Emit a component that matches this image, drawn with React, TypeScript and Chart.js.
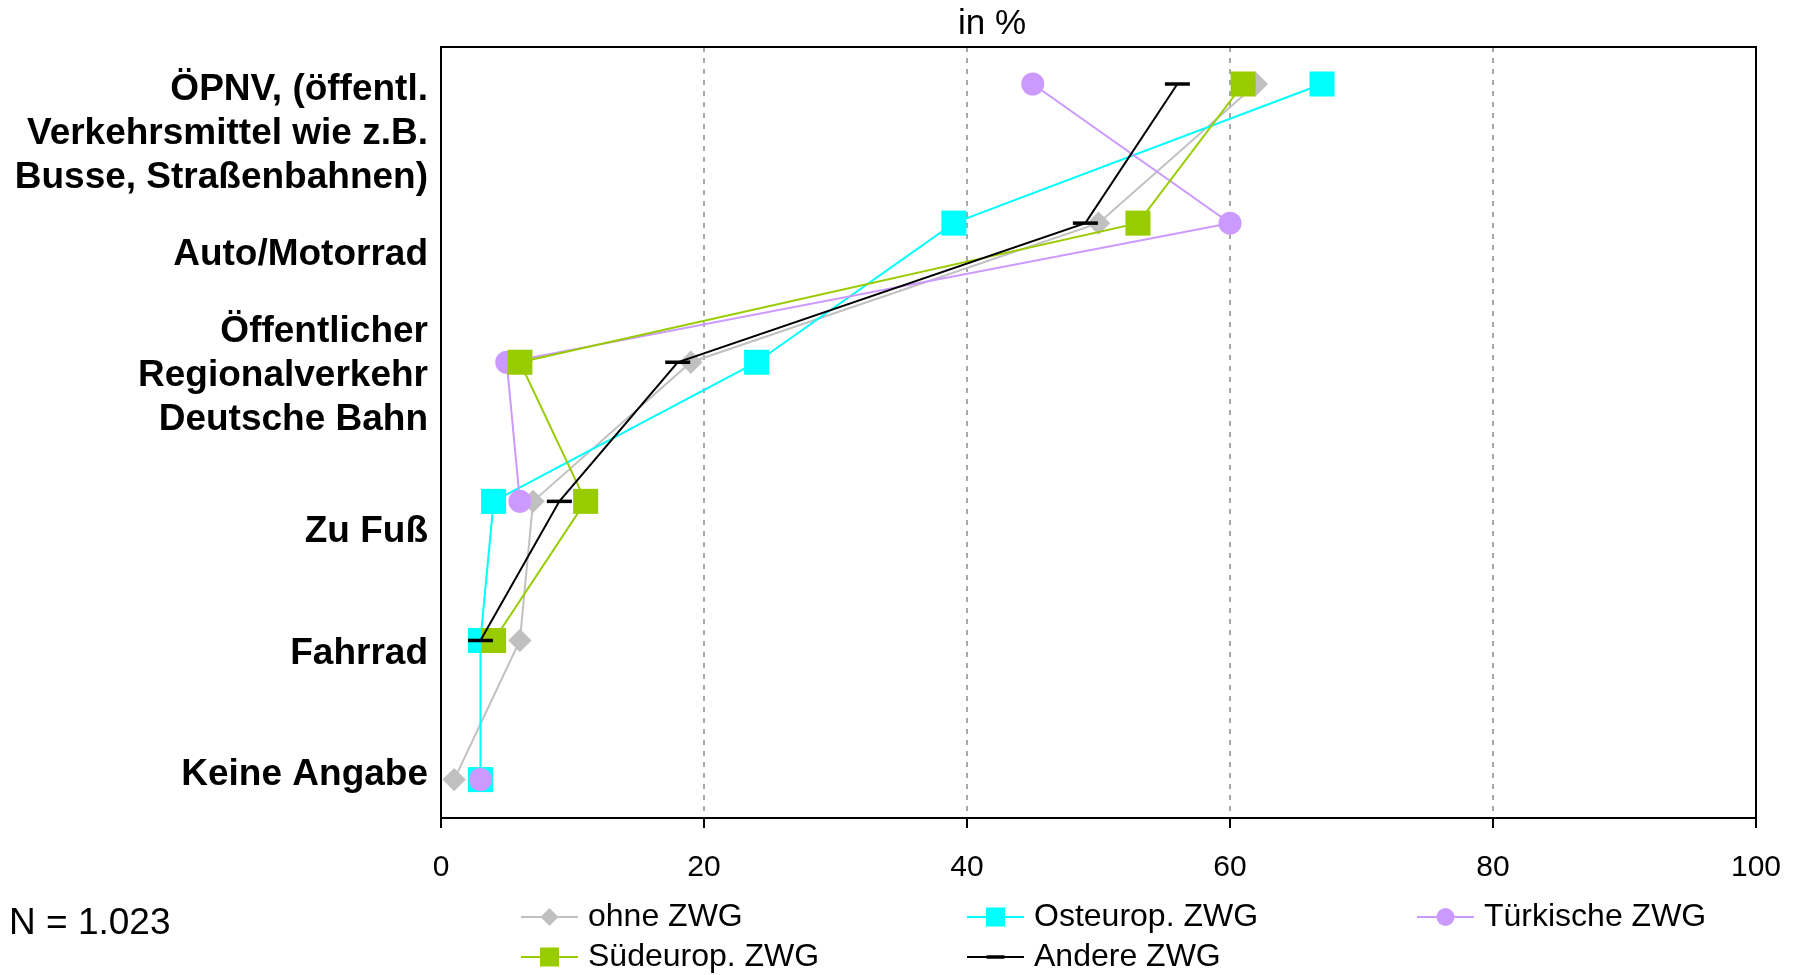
import React, { useEffect, useRef } from 'react';
import { Chart, registerables } from 'chart.js';

Chart.register(...registerables);

// ---------- data ----------
const CATEGORIES: string[][] = [
  ['ÖPNV, (öffentl.', 'Verkehrsmittel wie z.B.', 'Busse, Straßenbahnen)'],
  ['Auto/Motorrad'],
  ['Öffentlicher', 'Regionalverkehr', 'Deutsche Bahn'],
  ['Zu Fuß'],
  ['Fahrrad'],
  ['Keine Angabe'],
];
const SERIES_NAMES = ['ohne ZWG', 'Osteurop. ZWG', 'Türkische ZWG', 'Südeurop. ZWG', 'Andere ZWG'];
const OHNE_ZWG: (number | null)[] = [62, 50, 19, 7, 6, 1];
const OSTEUROP_ZWG: (number | null)[] = [67, 39, 24, 4, 3, 3];
const TUERKISCHE_ZWG: (number | null)[] = [45, 60, 5, 6, null, 3];
const SUEDEUROP_ZWG: (number | null)[] = [61, 53, 6, 11, 4, null];
const ANDERE_ZWG: (number | null)[] = [56, 49, 18, 9, 3, null];
const X_TICKS = [0, 20, 40, 60, 80, 100];
const TITLE = 'in %';
const NOTE = 'N = 1.023';

// ---------- layout / style ----------
const FONT = "'Liberation Sans', Arial, sans-serif";
const W = 1793;
const H = 975;
const LABEL_POS = [0.36, 1.23, 2.1, 3.216, 4.095, 4.968];
const SERIES_VALUES = [OHNE_ZWG, OSTEUROP_ZWG, TUERKISCHE_ZWG, SUEDEUROP_ZWG, ANDERE_ZWG];
const STYLES = [
  { color: '#C0C0C0', pointStyle: 'rectRot', radius: 11.7, pbw: 0, lr: 9 },
  { color: '#00FFFF', pointStyle: 'rect', radius: 17.7, pbw: 0, lr: 9.5 },
  { color: '#CC99FF', pointStyle: 'circle', radius: 11.5, pbw: 0, lr: 9 },
  { color: '#99CC00', pointStyle: 'rect', radius: 17.7, pbw: 0, lr: 9.5 },
  { color: '#000000', pointStyle: 'line', radius: 12.5, pbw: 3.5, lr: 9 },
];
const LEGEND_SLOTS = [
  { x: 521, y: 917 },
  { x: 967, y: 917 },
  { x: 1417, y: 917 },
  { x: 521, y: 957 },
  { x: 967, y: 957 },
];

function drawLegendMarker(ctx: CanvasRenderingContext2D, style: string, x: number, y: number, r: number, color: string) {
  ctx.save();
  ctx.fillStyle = color;
  ctx.strokeStyle = color;
  ctx.beginPath();
  if (style === 'rectRot') {
    ctx.moveTo(x, y - r);
    ctx.lineTo(x + r, y);
    ctx.lineTo(x, y + r);
    ctx.lineTo(x - r, y);
    ctx.closePath();
    ctx.fill();
  } else if (style === 'rect') {
    ctx.rect(x - r, y - r, 2 * r, 2 * r);
    ctx.fill();
  } else if (style === 'circle') {
    ctx.arc(x, y, r, 0, Math.PI * 2);
    ctx.fill();
  } else {
    ctx.lineWidth = 3.5;
    ctx.moveTo(x - r, y);
    ctx.lineTo(x + r, y);
    ctx.stroke();
  }
  ctx.restore();
}

const decorPlugin = {
  id: 'decor',
  beforeDatasetsDraw(chart: any) {
    const { ctx, chartArea: a } = chart;
    ctx.save();
    ctx.strokeStyle = '#000';
    ctx.lineWidth = 2;
    ctx.strokeRect(a.left, a.top, a.right - a.left, a.bottom - a.top);
    ctx.restore();
  },
  afterDraw(chart: any) {
    const { ctx } = chart;
    ctx.save();
    ctx.fillStyle = '#000';
    ctx.textBaseline = 'middle';
    // title
    ctx.font = `35px ${FONT}`;
    ctx.textAlign = 'center';
    ctx.fillText(TITLE, 992, 24);
    // note
    ctx.font = `37px ${FONT}`;
    ctx.textAlign = 'left';
    ctx.fillText(NOTE, 9, 924);
    // legend
    ctx.font = `32px ${FONT}`;
    SERIES_NAMES.forEach((name, i) => {
      const s = STYLES[i];
      const slot = LEGEND_SLOTS[i];
      ctx.save();
      ctx.strokeStyle = s.color;
      ctx.lineWidth = 2;
      ctx.beginPath();
      ctx.moveTo(slot.x, slot.y);
      ctx.lineTo(slot.x + 57, slot.y);
      ctx.stroke();
      ctx.restore();
      drawLegendMarker(ctx, s.pointStyle, slot.x + 28.5, slot.y, s.lr, s.color);
      ctx.fillStyle = '#000';
      ctx.fillText(name, slot.x + 67, slot.y);
    });
    ctx.restore();
  },
};

export default function App() {
  const ref = useRef<HTMLCanvasElement>(null);
  useEffect(() => {
    const canvas = ref.current!;
    const datasets = SERIES_NAMES.map((name, i) => {
      const s = STYLES[i];
      return {
        label: name,
        data: SERIES_VALUES[i].map((v, k) => ({ x: v, y: k })),
        borderColor: s.color,
        backgroundColor: s.color,
        borderWidth: 2,
        pointStyle: s.pointStyle,
        pointRadius: s.radius,
        pointHoverRadius: s.radius,
        pointBackgroundColor: s.color,
        pointBorderColor: s.color,
        pointBorderWidth: s.pbw,
        pointHoverBorderWidth: s.pbw,
        fill: false,
        tension: 0,
        spanGaps: false,
        order: SERIES_NAMES.length - i,
      };
    });
    const chart = new Chart(canvas, {
      type: 'line',
      data: { datasets: datasets as any },
      plugins: [decorPlugin],
      options: {
        indexAxis: 'y',
        animation: false,
        responsive: false,
        maintainAspectRatio: false,
        events: [],
        layout: { padding: { left: 0, right: 37, top: 47, bottom: 0 } },
        plugins: {
          legend: { display: false },
          tooltip: { enabled: false },
          title: { display: false },
        },
        scales: {
          x: {
            type: 'linear',
            position: 'bottom',
            min: 0,
            max: 100,
            afterBuildTicks: (s: any) => {
              s.ticks = X_TICKS.map((v) => ({ value: v }));
            },
            afterFit: (s: any) => {
              s.height = 157;
              s.paddingLeft = 0;
              s.paddingRight = 0;
            },
            ticks: {
              font: { family: FONT, size: 30 },
              color: '#000',
              padding: 22,
              maxRotation: 0,
              autoSkip: false,
            },
            grid: {
              color: '#a8a8a8',
              lineWidth: 2,
              drawTicks: true,
              tickLength: 10,
              tickColor: '#000',
              tickWidth: 2,
              tickBorderDash: [],
            },
            border: { display: false, dash: [5, 6] },
          },
          y: {
            type: 'linear',
            position: 'left',
            min: -0.266,
            max: 5.276,
            reverse: true,
            afterBuildTicks: (s: any) => {
              s.ticks = LABEL_POS.map((v) => ({ value: v }));
            },
            afterFit: (s: any) => {
              s.width = 441;
              s.paddingTop = 0;
              s.paddingBottom = 0;
            },
            ticks: {
              callback: (_v: any, i: number) => CATEGORIES[i],
              font: { family: FONT, size: 37, weight: 'bold', lineHeight: 44 / 37 },
              color: '#000',
              padding: 13,
              autoSkip: false,
            },
            grid: { display: false, drawTicks: false },
            border: { display: false },
          },
        },
      } as any,
    });
    return () => chart.destroy();
  }, []);
  return (
    <div style={{ position: 'absolute', left: 0, top: 0, width: W, height: H, background: '#fff' }}>
      <canvas ref={ref} width={W} height={H} style={{ width: W, height: H, display: 'block' }} />
    </div>
  );
}
